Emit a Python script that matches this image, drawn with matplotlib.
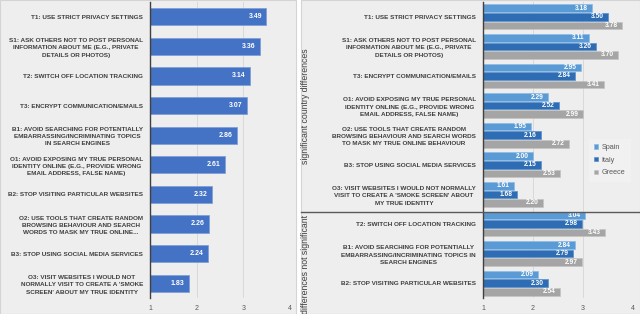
import matplotlib.pyplot as plt
from matplotlib.patches import Rectangle
from matplotlib import font_manager
import numpy as np

# Panel izquierdo: medias globales
etiquetas_izq = [
    "T1: USE STRICT PRIVACY SETTINGS",
    "S1: ASK OTHERS NOT TO POST PERSONAL\nINFORMATION ABOUT ME (E.G., PRIVATE\nDETAILS OR PHOTOS)",
    "T2: SWITCH OFF LOCATION TRACKING",
    "T3: ENCRYPT COMMUNICATION/EMAILS",
    "B1: AVOID SEARCHING FOR POTENTIALLY\nEMBARRASSING/INCRIMINATING TOPICS\nIN SEARCH ENGINES",
    "O1: AVOID EXPOSING MY TRUE PERSONAL\nIDENTITY ONLINE (E.G., PROVIDE WRONG\nEMAIL ADDRESS, FALSE NAME)",
    "B2: STOP VISITING PARTICULAR WEBSITES",
    "O2: USE TOOLS THAT CREATE RANDOM\nBROWSING BEHAVIOUR AND SEARCH\nWORDS TO MASK MY TRUE ONLINE...",
    "B3: STOP USING SOCIAL MEDIA SERVICES",
    "O3: VISIT WEBSITES I WOULD NOT\nNORMALLY VISIT TO CREATE A 'SMOKE\nSCREEN' ABOUT MY TRUE IDENTITY",
]
medias = [3.49, 3.36, 3.14, 3.07, 2.86, 2.61, 2.32, 2.26, 2.24, 1.83]

# Panel derecho: por pais
etiquetas_der = [
    "T1: USE STRICT PRIVACY SETTINGS",
    "S1: ASK OTHERS NOT TO POST PERSONAL\nINFORMATION ABOUT ME (E.G., PRIVATE\nDETAILS OR PHOTOS)",
    "T3: ENCRYPT COMMUNICATION/EMAILS",
    "O1: AVOID EXPOSING MY TRUE PERSONAL\nIDENTITY ONLINE (E.G., PROVIDE WRONG\nEMAIL ADDRESS, FALSE NAME)",
    "O2: USE TOOLS THAT CREATE RANDOM\nBROWSING BEHAVIOUR AND SEARCH WORDS\nTO MASK MY TRUE ONLINE BEHAVIOUR",
    "B3: STOP USING SOCIAL MEDIA SERVICES",
    "O3: VISIT WEBSITES I WOULD NOT NORMALLY\nVISIT TO CREATE A 'SMOKE SCREEN' ABOUT\nMY TRUE IDENTITY",
    "T2: SWITCH OFF LOCATION TRACKING",
    "B1: AVOID SEARCHING FOR POTENTIALLY\nEMBARRASSING/INCRIMINATING TOPICS IN\nSEARCH ENGINES",
    "B2: STOP VISITING PARTICULAR WEBSITES",
]
paises = ["Spain", "Italy", "Greece"]
spain = [3.18, 3.11, 2.95, 2.29, 1.95, 2.00, 1.61, 3.04, 2.84, 2.09]
italy = [3.50, 3.26, 2.84, 2.52, 2.16, 2.15, 1.68, 2.98, 2.79, 2.30]
greece = [3.78, 3.70, 3.41, 2.99, 2.72, 2.53, 2.20, 3.43, 2.97, 2.54]
grupos = ["significant country differences", "differences not significant"]
ticks_x = [1, 2, 3, 4]

# fuente estrecha si existe
nombres = {f.name for f in font_manager.fontManager.ttflist}
fuente = "Liberation Sans Narrow" if "Liberation Sans Narrow" in nombres else "Liberation Sans"
plt.rcParams["font.family"] = [fuente, "DejaVu Sans"]

W, H = 640, 314
fig = plt.figure(figsize=(W / 100, H / 100), dpi=100)
fig.patch.set_facecolor("white")

# fondos de los dos paneles
for x0, x1 in [(0, 296), (301, 640)]:
    fig.patches.append(Rectangle((x0 / W, 0), (x1 - x0) / W, 1, transform=fig.transFigure,
                                 facecolor="#EEEEEE", edgecolor="#D4D4D4", lw=0.8, zorder=-5))

txt_col = "#404040"
fs_lab = 4.6


def estilo(ax):
    ax.set_facecolor("none")
    ax.set_xlim(1, 4)
    ax.set_xticks(ticks_x)
    ax.set_xticklabels([str(t) for t in ticks_x], fontsize=5.0, color="#595959")
    ax.tick_params(length=0, pad=5)
    ax.tick_params(axis="y", pad=5)
    for s in ["top", "right", "bottom"]:
        ax.spines[s].set_visible(False)
    ax.spines["left"].set_color("#404040")
    ax.spines["left"].set_linewidth(1.0)
    ax.grid(axis="x", color="#D9D9D9", lw=0.7)
    ax.set_axisbelow(True)


# ---- izquierda
ax1 = fig.add_axes([150 / W, 16 / H, 140 / W, 296 / H])
estilo(ax1)
y1 = np.arange(len(medias))
ax1.barh(y1, np.array(medias) - 1, left=1, height=0.58, color="#4472C4",
         edgecolor="#7C9BD8", lw=0.5)
for y, v in zip(y1, medias):
    ax1.text(v - 0.09, y, f"{v:.2f}", ha="right", va="center", color="white",
             fontsize=5.0, fontweight="bold")
ax1.set_ylim(len(medias) - 0.5, -0.5)
ax1.set_yticks(y1)
ax1.set_yticklabels(etiquetas_izq, fontsize=fs_lab, fontweight="bold", color=txt_col,
                    multialignment="center", linespacing=1.55)

# ---- derecha
ax2 = fig.add_axes([483 / W, 16 / H, 150 / W, 296 / H])
estilo(ax2)
y2 = np.arange(len(spain))
colores = ["#5B9BD5", "#2E6DB4", "#A5A5A5"]
bordes = ["#8DBBE6", "#5A8FCC", "#C4C4C4"]
alto = 0.26
for k, (serie, c, b) in enumerate(zip([spain, italy, greece], colores, bordes)):
    yy = y2 + (k - 1) * 0.29
    ax2.barh(yy, np.array(serie) - 1, left=1, height=alto, color=c, edgecolor=b, lw=0.5,
             label=paises[k])
    for y, v in zip(yy, serie):
        ax2.text(v - 0.08, y, f"{v:.2f}", ha="right", va="center", color="white",
                 fontsize=4.8, fontweight="bold")
ax2.set_ylim(len(spain) - 0.5, -0.5)
ax2.set_yticks(y2)
ax2.set_yticklabels(etiquetas_der, fontsize=fs_lab, fontweight="bold", color=txt_col,
                    multialignment="center", linespacing=1.55)
leg = ax2.legend(loc="upper left", bbox_to_anchor=(0.68, 0.55), fontsize=5.2,
                 frameon=True, handlelength=0.6, handleheight=0.6, labelspacing=0.8,
                 borderpad=0.7, handletextpad=0.5)
leg.get_frame().set_facecolor("#F2F2F2")
leg.get_frame().set_edgecolor("#F2F2F2")
for t in leg.get_texts():
    t.set_color("#595959")

# linea separadora entre grupos
sep = 6.6
y_sep = ax2.transData.transform((1, sep))[1]
y_sep_fig = fig.transFigure.inverted().transform((0, y_sep))[1]
fig.add_artist(plt.Line2D([301 / W, 1], [y_sep_fig, y_sep_fig], color="#595959", lw=1.0))

fig.text(306 / W, (H - 106) / H, grupos[0], rotation=90, ha="center", va="center",
         fontsize=6.3, color=txt_col)
fig.text(306 / W, (H - 264) / H, grupos[1], rotation=90, ha="center", va="center",
         fontsize=6.3, color=txt_col)

fig.savefig("out.png", dpi=100, facecolor="white")
